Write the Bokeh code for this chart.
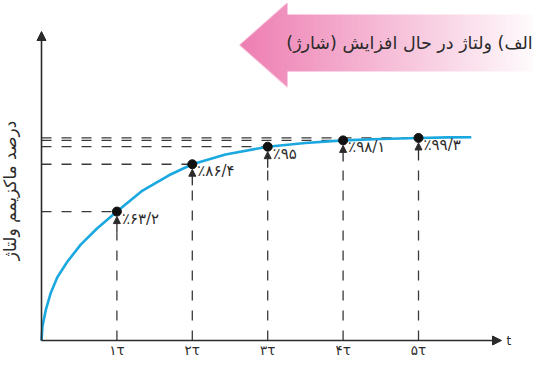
import numpy as np
from bokeh.plotting import figure
from bokeh.models import Arrow, NormalHead, Label, Range1d
from bokeh.embed import file_html
from bokeh.resources import INLINE
from bokeh.core.properties import value

# ---------------- data ----------------
tau_ticks = [1, 2, 3, 4, 5]
tick_labels = ["۱τ", "۲τ", "۳τ", "۴τ", "۵τ"]
point_pct = [63.2, 86.4, 95.0, 98.1, 99.3]
point_labels = ["٪۶۳/۲", "٪۸۶/۴", "٪۹۵", "٪۹۸/۱", "٪۹۹/۳"]
curve_t = [0, 0.013, 0.057, 0.12, 0.21, 0.34, 0.52, 0.74, 1.0, 1.34, 1.69,
           2.0, 2.44, 3.0, 3.5, 4.0, 4.5, 5.0, 5.4, 5.7]
curve_pct = [0, 7, 15, 23, 31, 38.5, 47, 55, 63.2, 73.5, 81,
             86.4, 91.2, 95, 96.8, 98.1, 98.8, 99.3, 99.55, 99.65]
title_text = "الف) ولتاژ در حال افزایش (شارژ)"
ylabel_text = "درصد ماکزیمم ولتاژ"
x_name = "t"

# ---------------- layout ----------------
W, H = 533, 361
X0, Y0 = 41, 340      # canvas pixel of the origin
SX, SY = 75.4, 2.04   # pixels per tau, pixels per percent

def dx(px):
    return (px - X0) / SX

def dy(py):
    return (Y0 - py) / SY

FONT = "DejaVu Sans"
INK = "#2b2b2b"
DASH = "#3a3a3a"
CURVE = "#1ba8e0"

p = figure(width=W, height=H, output_backend="svg", toolbar_location=None,
           x_range=Range1d(dx(0), dx(W)), y_range=Range1d(dy(H), dy(0)),
           min_border=0, x_axis_location=None, y_axis_location=None,
           outline_line_color=None, background_fill_color="white",
           border_fill_color="white")
p.grid.visible = False

# ---------------- title arrow (gradient) ----------------
ax0, ax1 = 239, W
ay0, ay1 = 2, 87
head_x, mid_y, half_h = 287, 44.5, 42.5
body_top, body_bot = 14, 71
grad_end = 541
w, h = ax1 - ax0, ay1 - ay0
cols = np.arange(w) + ax0 + 0.5
rows = np.arange(h) + ay0 + 0.5
CX, CY = np.meshgrid(cols, rows)
half = (CX - ax0) / (head_x - ax0) * half_h
a_head = np.clip(half - np.abs(CY - mid_y) + 0.5, 0, 1) * (CX < head_x)
a_body = ((CX >= head_x) & (CY >= body_top) & (CY <= body_bot)).astype(float)
alpha = np.maximum(a_head, a_body)
t = np.clip((CX - ax0) / (grad_end - ax0), 0, 1)
left = np.array([238, 126, 178], dtype=float)
img = np.zeros((h, w, 4), dtype=np.uint8)
for k in range(3):
    img[..., k] = (left[k] * (1 - t) + 255 * t).astype(np.uint8)
img[..., 3] = (alpha * 255).astype(np.uint8)
img = np.ascontiguousarray(img[::-1])
p.image_rgba(image=[img.view(np.uint32).reshape(h, w)], x=dx(ax0), y=dy(ay1),
             dw=w / SX, dh=h / SY)

p.add_layout(Label(x=dx(409), y=dy(42), text="\u200f" + title_text + "\u200f",
                   text_align="center", text_baseline="middle",
                   text_font=FONT, text_font_size="17.5px", text_color=INK))

# ---------------- guide lines ----------------
p.segment(x0=[0] * len(point_pct), y0=point_pct, x1=tau_ticks, y1=point_pct,
          line_color=DASH, line_width=1.3, line_dash="10 10")
p.segment(x0=tau_ticks, y0=[0] * len(point_pct), x1=tau_ticks,
          y1=[v - 21 / SY for v in point_pct],
          line_color=DASH, line_width=1.3, line_dash="10 10")
for tt, v in zip(tau_ticks, point_pct):
    p.add_layout(Arrow(x_start=tt, y_start=v - 21 / SY, x_end=tt, y_end=v - 5 / SY,
                       line_color=INK, line_width=1.3,
                       end=NormalHead(size=7, fill_color=INK, line_color=INK)))

# ---------------- axes ----------------
p.add_layout(Arrow(x_start=0, y_start=0, x_end=0, y_end=dy(31),
                   line_color=INK, line_width=1.6,
                   end=NormalHead(size=9, fill_color=INK, line_color=INK)))
p.add_layout(Arrow(x_start=0, y_start=0, x_end=dx(501), y_end=0,
                   line_color=INK, line_width=1.6,
                   end=NormalHead(size=9, fill_color=INK, line_color=INK)))
p.add_layout(Label(x=dx(506), y=0, text=x_name, text_align="left",
                   text_baseline="middle", text_font=FONT,
                   text_font_size="12px", text_color=INK))

# ---------------- curve & points ----------------
p.line(curve_t, curve_pct, line_color=CURVE, line_width=2.6, line_join="round")
p.scatter(tau_ticks, point_pct, size=9, fill_color="#111111", line_color="#111111")

p.text(x=tau_ticks, y=point_pct, text=point_labels, x_offset=5, y_offset=7,
       text_align="left", text_baseline="middle", text_font=value(FONT),
       text_font_size="15px", text_color=INK)
p.text(x=tau_ticks, y=[0] * len(tau_ticks), text=tick_labels, y_offset=9,
       text_align="center", text_baseline="middle", text_font=value(FONT),
       text_font_size="13.5px", text_color=INK)

p.add_layout(Label(x=dx(9), y=dy(190), text=ylabel_text, angle=np.pi / 2,
                   text_align="center", text_baseline="middle",
                   text_font=FONT, text_font_size="17px", text_color=INK))

open("out.html", "w").write(file_html(p, INLINE))
